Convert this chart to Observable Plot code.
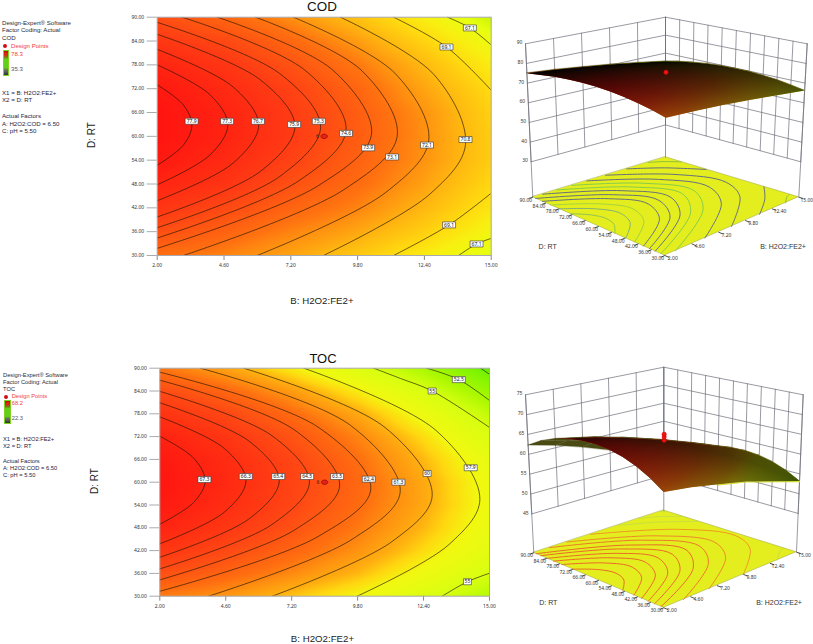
<!DOCTYPE html>
<html>
<head>
<meta charset="utf-8">
<script src="https://cdn.jsdelivr.net/npm/d3@7"></script>
<script src="https://cdn.jsdelivr.net/npm/@observablehq/plot@0.6"></script>
<style>
  html, body { margin: 0; padding: 0; background: #fff; }
  #page { position: relative; width: 813px; height: 644px; overflow: hidden; font-family: "Liberation Sans", Arial, sans-serif; }
  #page svg { position: absolute; background: transparent; overflow: visible; }
  .t { position: absolute; white-space: nowrap; line-height: 1; color: #222; }
  .c { transform: translate(-50%, -50%); }
</style>
</head>
<body>
<div id="page"></div>
<script>
// ---------- axis ticks ----------
const bTicks = [2, 4.6, 7.2, 9.8, 12.4, 15];
const rtTicks = [90, 84, 78, 72, 66, 60, 54, 48, 42, 36, 30];

// ---------- response read at every tick crossing (one list per B tick, D from 90 to 30) ----------
const codZ = [
  [75.0, 76.2, 77.3, 78.0, 78.3, 78.3, 78.0, 77.3, 76.3, 75.0, 73.4],
  [73.8, 75.3, 76.3, 77.0, 77.4, 77.4, 77.0, 76.4, 75.3, 74.0, 72.6],
  [72.2, 73.7, 74.8, 75.6, 75.9, 76.0, 75.6, 74.9, 73.9, 72.6, 71.5],
  [70.3, 71.8, 73.0, 73.8, 74.2, 74.3, 74.0, 73.5, 72.6, 71.4, 70.0],
  [68.0, 69.5, 70.7, 71.5, 72.1, 72.2, 72.1, 71.6, 70.8, 69.7, 68.2],
  [65.4, 67.0, 68.2, 69.1, 69.6, 69.8, 69.8, 69.3, 68.6, 67.5, 66.2]
];
const tocZ = [
  [62.2, 64.5, 66.1, 67.2, 67.9, 68.1, 67.8, 67.1, 65.9, 64.2, 62.0],
  [60.5, 62.9, 64.7, 65.9, 66.6, 66.8, 66.5, 65.8, 64.6, 63.0, 61.0],
  [58.3, 60.8, 62.7, 64.0, 64.8, 65.0, 64.8, 64.1, 63.0, 61.5, 59.5],
  [55.7, 58.3, 60.3, 61.7, 62.5, 62.9, 62.7, 62.1, 61.2, 59.8, 57.9],
  [52.6, 55.3, 57.3, 58.8, 59.8, 60.3, 60.3, 59.8, 58.9, 57.5, 55.6],
  [48.7, 51.5, 53.8, 55.5, 56.7, 57.3, 57.4, 57.1, 56.3, 55.0, 53.2]
];

// ---------- contour lines ----------
const codLineX = [
  [2, 3.02, 3.35, 3.02, 2], [2, 4.06, 4.75, 4.06, 2], [2, 4.96, 5.95, 4.96, 2], [2, 6.02, 7.36, 6.02, 2],
  [2, 6.77, 8.36, 6.77, 2], [2.97, 7.76, 9.35, 7.51, 2], [4.34, 8.84, 10.34, 8.26, 2], [5.83, 9.96, 11.34, 9.26, 3.02],
  [7.3, 11.25, 12.57, 10.9, 5.89], [9.13, 12.78, 14, 12.62, 8.47],
  [11.2, 13.26, 15], [15, 13.36, 11.2], [13.3, 14.17, 15], [15, 14.43, 13.73]
];
const codLineY = [
  [73, 67.9, 62.85, 57.8, 52.7], [78, 70.45, 62.9, 55.35, 47.8], [81.9, 72.4, 62.85, 53.3, 43.8], [85.7, 74.2, 62.5, 51.2, 39.7],
  [88.7, 75.8, 62.3, 49.9, 37], [90, 76.6, 61.5, 48.8, 34.4], [90, 76.65, 60.5, 47.55, 31.8], [90, 76.55, 60, 46.55, 30],
  [90, 75.9, 59, 45.9, 30], [90, 75.5, 58, 45.5, 30],
  [90, 82.5, 71.6], [45.7, 37.7, 30], [90, 87.3, 83], [34.3, 32.9, 30]
];
const tocLineX = [
  [2, 3.34, 3.79, 3.34, 2], [2, 4.55, 5.4, 4.55, 2], [2, 5.53, 6.71, 5.53, 2], [2, 6.43, 7.9, 6.43, 2],
  [2, 7.32, 9.09, 7.32, 2], [2, 8.24, 10.32, 8.24, 2], [3.6, 9.51, 11.48, 9.59, 3.92], [5.31, 10.88, 12.74, 11.16, 6.43],
  [7.68, 12.885, 14.62, 13.41, 9.78], [10.43, 11.49, 12.74, 15], [15, 14.13, 13.13], [12.52, 13.79, 15], [14.65, 15]
];
const tocLineY = [
  [72.1, 66.3, 60.4, 54.7, 48.94], [77.2, 68.85, 60.4, 52.15, 43.8], [80.9, 70.75, 60.4, 50.4, 40.25], [83.9, 72.2, 60, 48.9, 37.2],
  [86.84, 73.7, 59.1, 47.45, 34.3], [88.95, 74.5, 58.2, 45.7, 31.3], [90, 75, 57.5, 45, 30], [90, 74.4, 56.5, 44.4, 30],
  [90, 73.65, 55.5, 43.65, 30], [90, 87.3, 84, 74.4], [36.05, 33.8, 30], [90, 87, 81.5], [90, 88.4]
];
const codFloorStroke = ["#93c455", "#84b07a", "#a6d23e", "#67707e", "#67707e", "#67707e", "#86cc4a", "#86cc4a", "#67707e", "#67707e", "#67707e", "#67707e", "#8ac03e", "#8ac03e"];
const tocFloorStroke = ["#ec6a28", "#ec6a28", "#ec6a28", "#ec6a28", "#ec6a28", "#ec6a28", "#ec7a28", "#ec8a28", "#ee9a20", "#c8e040", "#c8e040", "#c8e040", "#c8e040"];

// ---------- contour labels ----------
const codLabelText = ["77.9", "77.3", "76.7", "75.9", "75.3", "74.6", "73.9", "73.1", "72.1", "70.8", "69.1", "69.1", "67.1", "67.1"];
const codLabelX = [3.34, 4.72, 5.92, 7.33, 8.29, 9.35, 10.21, 11.14, 12.5, 14, 13.26, 13.36, 14.17, 14.43];
const codLabelY = [63.8, 63.8, 63.8, 63, 63.8, 60.75, 57.1, 54.8, 57.8, 59.2, 82.5, 37.7, 87.3, 32.9];
const tocLabelText = ["67.3", "66.3", "65.4", "64.5", "63.5", "62.4", "61.3", "60", "57.9", "55", "55", "52.5"];
const tocLabelX = [3.76, 5.39, 6.67, 7.81, 8.99, 10.24, 11.41, 12.54, 14.26, 12.74, 14.13, 13.79];
const tocLabelY = [60.7, 61.5, 61.5, 61.5, 61.5, 60.8, 60, 62.3, 63.8, 84, 33.8, 87];

// ---------- colour ramps ----------
const codDomain = [65, 66.5, 68, 69.1, 70.8, 72.1, 73.1, 75.9, 78.3];
const codRange = ["#c0f000", "#e8ff10", "#f8f010", "#ffdc10", "#ffb810", "#ff9410", "#ff7410", "#ff3c14", "#ff1410"];
const tocDomain = [48.7, 50, 52.5, 55, 57.9, 59, 60, 61.3, 62.4, 64.5, 68.2];
const tocRange = ["#60f000", "#80f400", "#a8f800", "#d8ff10", "#f2f810", "#ffd810", "#ffb010", "#ff9010", "#ff7010", "#ff4a14", "#ff1410"];

// ---------- design point and z axes ----------
const designB = 8.5, designD = 60;
const codDesignZ = [77];
const tocDesignZ = [64.4, 65.2, 65.9];
const codZTicks = [90, 80, 70, 60, 50, 40, 30];
const tocZTicks = [75, 70, 65, 60, 55, 50, 45];

// ---------- layout helpers ----------
const page = document.getElementById("page");
function put(svg, left, top) { svg.style.left = left + "px"; svg.style.top = top + "px"; page.appendChild(svg); }
function text(str, x, y, size, color, center, rotate) {
  const d = document.createElement("div");
  d.className = "t" + (center ? " c" : "");
  d.textContent = str;
  d.style.left = x + "px"; d.style.top = y + "px"; d.style.fontSize = size + "px";
  if (color) d.style.color = color;
  if (rotate) d.style.transform = "translate(-50%,-50%) rotate(-90deg)";
  page.appendChild(d);
}
const boxSym = (w, h) => ({draw(c) { c.rect(-w / 2, -h / 2, w, h); }});
const ellipseSym = (rx, ry) => ({draw(c) {
  const k = 0.5523;
  c.moveTo(rx, 0);
  c.bezierCurveTo(rx, k * ry, k * rx, ry, 0, ry);
  c.bezierCurveTo(-k * rx, ry, -rx, k * ry, -rx, 0);
  c.bezierCurveTo(-rx, -k * ry, -k * rx, -ry, 0, -ry);
  c.bezierCurveTo(k * rx, -ry, rx, -k * ry, rx, 0);
  c.closePath();
}});

function gridOf(zTable) {
  return bTicks.flatMap((b, i) => rtTicks.map((d, j) => ({b, d, z: zTable[i][j]})));
}
function linesOf(xs, ys) {
  return xs.flatMap((line, i) => line.map((x, k) => ({x, y: ys[i][k], id: i})));
}

// ---------- 2-D contour panel ----------
function contourPanel(o) {
  const labels = o.labelText.map((t, i) => ({t, x: o.labelX[i], y: o.labelY[i]}));
  const svg = Plot.plot({
    width: o.w, height: o.h,
    marginLeft: o.left, marginRight: o.w - o.right, marginTop: o.top, marginBottom: o.h - o.bottom,
    x: {domain: [2, 15]}, y: {domain: [30, 90]},
    color: {type: "linear", domain: o.domain, range: o.range},
    marks: [
      Plot.raster(gridOf(o.z), {x: "b", y: "d", fill: "z", interpolate: "barycentric"}),
      Plot.line(linesOf(o.lineX, o.lineY), {x: "x", y: "y", z: "id", curve: "catmull-rom", stroke: "#1c1400", strokeOpacity: 0.8, strokeWidth: 0.8, clip: true}),
      Plot.dot(labels.filter(d => d.t.length > 2), {x: "x", y: "y", symbol: boxSym(13, 6), fill: "#fff", stroke: "#333", strokeWidth: 0.6}),
      Plot.dot(labels.filter(d => d.t.length <= 2), {x: "x", y: "y", symbol: boxSym(8, 6), fill: "#fff", stroke: "#333", strokeWidth: 0.6}),
      Plot.text(labels, {x: "x", y: "y", text: "t", fontSize: 5, fill: "#111"}),
      Plot.text([o.repeat], {x: 8.24, y: 60, text: d => d, fontSize: 5, fill: "#222"}),
      Plot.dot([0], {x: () => designB, y: () => designD, symbol: ellipseSym(3.2, 2.2), fill: "#e8201a", stroke: "#7a0a0a", strokeWidth: 0.7}),
      Plot.axisX({ticks: bTicks, tickSize: 5, tickPadding: 3, tickFormat: ".2f", fontSize: 5, stroke: "#888", color: "#333", label: null}),
      Plot.axisY({ticks: rtTicks, tickSize: 10, tickPadding: 3, tickFormat: ".2f", fontSize: 5, stroke: "#aaa", color: "#333", label: null}),
      Plot.frame({stroke: "#a8a8b0", strokeWidth: 1})
    ]
  });
  put(svg, 0, o.y0);
}

// ---------- view of the 3-D panel: the ticks run evenly along each edge, so the plane is bilinear ----------
function planeMap(q) { // q: front, right, back, left
  const [p0, p1, p2, p3] = q;
  return (u, v) => [0, 1].map(k =>
    p0[k] * (1 - u) * (1 - v) + p1[k] * u * (1 - v) + p2[k] * u * v + p3[k] * (1 - u) * v);
}

function surfacePanel(o) {
  const F = planeMap(o.floor), T = planeMap(o.ceil);
  const P = (b, d, z) => {
    const u = (b - 2) / 13, v = (d - 30) / 60;
    const f = F(u, v), c = T(u, v), t = (z - o.zFloor) / (o.zTop - o.zFloor);
    return {px: f[0] + (c[0] - f[0]) * t, py: f[1] + (c[1] - f[1]) * t};
  };
  const zMin = o.zTicks[o.zTicks.length - 1], zMax = o.zTicks[0];

  // wall lines
  const wall = [];
  let id = 0;
  for (const z of o.zTicks) {
    wall.push({...P(2, 90, z), id}, {...P(15, 90, z), id}, {...P(15, 30, z), id}); id++;
  }
  for (const b of bTicks) { wall.push({...P(b, 90, zMin), id}, {...P(b, 90, zMax), id}); id++; }
  for (const d of rtTicks) { wall.push({...P(15, d, zMin), id}, {...P(15, d, zMax), id}); id++; }
  for (const [b, d] of [[2, 90], [15, 90], [15, 30]]) {
    wall.push({...P(b, d, o.zFloor), id}, {...P(b, d, zMax), id}); id++;
  }

  // floor + contours on it
  const fq = [{a: P(2, 90, o.zFloor), c: P(15, 90, o.zFloor)}, {a: P(2, 30, o.zFloor), c: P(15, 30, o.zFloor)}];
  const floorLines = linesOf(o.lineX, o.lineY).map(p => ({...P(p.x, p.y, o.zFloor), id: p.id, s: o.floorStroke[p.id]}));

  // surface nodes with a hidden-part test (walking from the front corner towards the back)
  const nodes = bTicks.flatMap((b, i) => rtTicks.map((d, j) => {
    const u = (b - 2) / 13, v = (d - 30) / 60;
    const light = 0.65 * (1 - v) * (1 - 0.45 * u);
    return {b, d, i, j, z: o.z[i][j], dark: 1 - light, ...P(b, d, o.z[i][j])};
  }));
  const at = (i, j) => nodes[i * rtTicks.length + j];
  const visible = nodes.filter(n => {
    for (let j = n.j + 1; j < rtTicks.length; j++) if (at(n.i, j).py < n.py - 0.5) return false;
    for (let i = 0; i < n.i; i++) if (at(i, n.j).py < n.py - 0.5) return false;
    return true;
  });
  // the grid cells, drawn flat as the part of the sheet seen from underneath
  const cells = [];
  for (let i = 0; i < bTicks.length - 1; i++) for (let j = 0; j < rtTicks.length - 1; j++) {
    const cid = i * 100 + j;
    cells.push({a: at(i, j), c: at(i + 1, j), cid}, {a: at(i, j + 1), c: at(i + 1, j + 1), cid});
  }

  // floor ticks
  const tickD = rtTicks.map(d => ({d, t: d.toFixed(2), a: P(2, d, o.zFloor), c: P(1.6, d, o.zFloor)}));
  const tickB = bTicks.map(b => ({b, t: b.toFixed(2), a: P(b, 30, o.zFloor), c: P(b, 28, o.zFloor)}));
  const zT = o.zTicks.map(z => ({z, a: P(2, 90, z), t: String(z)}));
  const design = o.designZ.map(z => P(designB, designD, z));
  const rim = bTicks.map((b, i) => at(i, rtTicks.length - 1)).slice(2);

  const svg = Plot.plot({
    width: 313, height: 294, margin: 0,
    x: {domain: [0, 313], axis: null}, y: {domain: [294, 0], axis: null},
    color: {type: "linear", domain: o.domain, range: o.range},
    opacity: {domain: [0, 1], range: [0, 1]},
    marks: [
      Plot.area(fq, {x1: d => d.a.px, y1: d => d.a.py, x2: d => d.c.px, y2: d => d.c.py, fill: o.floorFill, stroke: "#99a030", strokeWidth: 0.5}),
      Plot.line(floorLines, {x: "px", y: "py", z: "id", stroke: "s", curve: "catmull-rom", strokeWidth: 1}),
      Plot.line(wall, {x: "px", y: "py", z: "id", stroke: "#6d6f78", strokeWidth: 0.7}),
      Plot.line(rim, {x: "px", y: "py", stroke: o.rim, strokeWidth: 1.2, dy: 0.6}),
      Plot.area(cells, {x1: d => d.a.px, y1: d => d.a.py, x2: d => d.c.px, y2: d => d.c.py, z: "cid", fill: "#4a4a14", stroke: "#4a4a14", strokeWidth: 0.3}),
      Plot.raster(visible, {x: "px", y: "py", fill: "z", interpolate: "barycentric"}),
      Plot.raster(visible, {x: "px", y: "py", fill: "black", fillOpacity: "dark", interpolate: "barycentric"}),
      Plot.dot(design, {x: "px", y: "py", r: 2.2, fill: "#f01414", stroke: "#c00", strokeWidth: 0.4}),
      Plot.link(tickD, {x1: d => d.a.px, y1: d => d.a.py, x2: d => d.c.px, y2: d => d.c.py, stroke: "#222", strokeWidth: 0.8}),
      Plot.link(tickB, {x1: d => d.a.px, y1: d => d.a.py, x2: d => d.c.px, y2: d => d.c.py, stroke: "#222", strokeWidth: 0.8}),
      Plot.text(tickD, {x: d => d.a.px, y: d => d.a.py, text: "t", dx: -7, dy: 3, fontSize: 5, fill: "#333"}),
      Plot.text(tickB, {x: d => d.a.px, y: d => d.a.py, text: "t", dx: 8, dy: 3, fontSize: 5, fill: "#333"}),
      Plot.text(zT, {x: d => d.a.px, y: d => d.a.py, text: "t", dx: -6, dy: -1, fontSize: 5, fill: "#333"})
    ]
  });
  // Plot's barycentric raster fills the whole frame, so cut it to the surface outline
  const left = at(0, 0), right = at(5, rtTicks.length - 1);
  const edge = [
    ...rtTicks.map((d, j) => at(0, j)),
    ...bTicks.map((b, i) => at(i, rtTicks.length - 1))
  ];
  const hull = d3.polygonHull(nodes.map(n => [n.px, n.py]));
  const chord = x => left.py + (right.py - left.py) * (x - left.px) / (right.px - left.px);
  const upper = hull.filter(p => p[1] < chord(p[0]) - 0.01).sort((p, q) => q[0] - p[0]);
  const pts = [...edge.map(n => [n.px, n.py]), ...upper];
  const ns = "http://www.w3.org/2000/svg";
  const defs = document.createElementNS(ns, "defs");
  const clip = document.createElementNS(ns, "clipPath");
  clip.setAttribute("id", o.clipId);
  const poly = document.createElementNS(ns, "polygon");
  poly.setAttribute("points", pts.map(p => p.join(",")).join(" "));
  clip.appendChild(poly);
  // fine dark mesh over the surface, like the wire grid of the original
  const pat = document.createElementNS(ns, "pattern");
  pat.setAttribute("id", o.clipId + "M");
  pat.setAttribute("width", 2); pat.setAttribute("height", 2);
  pat.setAttribute("patternUnits", "userSpaceOnUse");
  const cell = document.createElementNS(ns, "rect");
  cell.setAttribute("width", 1); cell.setAttribute("height", 1); cell.setAttribute("fill", "#000"); cell.setAttribute("fill-opacity", 0.28);
  pat.appendChild(cell);
  defs.appendChild(clip); defs.appendChild(pat);
  svg.appendChild(defs);
  const images = svg.querySelectorAll("image");
  images.forEach(im => im.setAttribute("clip-path", `url(#${o.clipId})`));
  const mesh = document.createElementNS(ns, "rect");
  mesh.setAttribute("width", 313); mesh.setAttribute("height", 294);
  mesh.setAttribute("fill", `url(#${o.clipId}M)`);
  mesh.setAttribute("clip-path", `url(#${o.clipId})`);
  const lastImage = images[images.length - 1];
  lastImage.parentNode.insertBefore(mesh, lastImage.nextSibling);
  put(svg, 500, o.y0);
}

// ---------- left notes ----------
function notes(o) {
  const s = o.size, x = o.x;
  o.head.forEach((t, i) => text(t, x, o.headY[i] - s / 2, s, "#2a2a33"));
  const dot = document.createElement("div");
  dot.style.cssText = `position:absolute;left:${o.dotX - 2}px;top:${o.dpY - 2}px;width:4px;height:4px;border-radius:50%;background:#d01010;`;
  page.appendChild(dot);
  text("Design Points", o.x2, o.dpY - s / 2, s, "#f03c3c");
  text(o.max, o.x2, o.maxY - s / 2, s, "#f03c3c");
  text(o.min, o.x2, o.minY - s / 2, s, "#556");
  const bar = document.createElement("div");
  bar.style.cssText = `position:absolute;left:${o.barX}px;top:${o.barY}px;width:${o.barW}px;height:${o.barH}px;outline:1px solid #7ed321;outline-offset:-1px;background:linear-gradient(#8a0c0c 0%,#e02010 12%,#d03014 20%,#7a7a20 28%,#62d018 36%,#62d018 68%,#6a7a60 76%,#555 86%,#222 100%);`;
  page.appendChild(bar);
  o.foot.forEach((t, i) => text(t, x, o.footY[i] - s / 2, s, "#1e2240"));
}

notes({
  x: 2, x2: 11, size: 6.1, dotX: 5, dpY: 46.3, maxY: 53.7, minY: 69.3, max: "78.3", min: "35.3",
  barX: 3, barY: 50, barW: 6, barH: 26,
  head: ["Design-Expert® Software", "Factor Coding: Actual", "COD"], headY: [22.7, 30.3, 38.3],
  foot: ["X1 = B: H2O2:FE2+", "X2 = D: RT", "Actual Factors", "A: H2O2:COD = 6.50", "C: pH = 5.50"],
  footY: [93, 100.3, 116, 123.7, 131.3]
});
notes({
  x: 3, x2: 11.7, size: 5.75, dotX: 6, dpY: 397.3, maxY: 404.3, minY: 418.7, max: "68.2", min: "22.3",
  barX: 4, barY: 400, barW: 7, barH: 24,
  head: ["Design-Expert® Software", "Factor Coding: Actual", "TOC"], headY: [375.7, 382.7, 389.7],
  foot: ["X1 = B: H2O2:FE2+", "X2 = D: RT", "Actual Factors", "A: H2O2:COD = 6.50", "C: pH = 5.50"],
  footY: [440.3, 447.3, 461.7, 469, 476.3]
});

// ---------- the four panels ----------
contourPanel({
  y0: 0, w: 500, h: 275, left: 156.7, right: 490.7, top: 16.7, bottom: 255,
  z: codZ, lineX: codLineX, lineY: codLineY, domain: codDomain, range: codRange,
  labelText: codLabelText, labelX: codLabelX, labelY: codLabelY, repeat: "6"
});
contourPanel({
  y0: 350, w: 500, h: 270, left: 159.3, right: 489, top: 17.7, bottom: 245.7,
  z: tocZ, lineX: tocLineX, lineY: tocLineY, domain: tocDomain, range: tocRange,
  labelText: tocLabelText, labelX: tocLabelX, labelY: tocLabelY, repeat: "6"
});
surfacePanel({
  y0: 0, clipId: "clipCod", z: codZ, lineX: codLineX, lineY: codLineY, floorStroke: codFloorStroke, rim: "none",
  domain: codDomain, range: codRange, zTicks: codZTicks, designZ: codDesignZ, zFloor: 12, zTop: 90, floorFill: "#e4ee1e",
  floor: [[164.3, 255], [298.3, 196.7], [165, 156.7], [32.3, 196.7]],
  ceil: [[165.7, 80], [306.7, 43.3], [165, 16.7], [25, 43.3]]
});
surfacePanel({
  y0: 350, clipId: "clipToc", z: tocZ, lineX: tocLineX, lineY: tocLineY, floorStroke: tocFloorStroke, rim: "#d8e030",
  domain: tocDomain, range: tocRange, zTicks: tocZTicks, designZ: tocDesignZ, zFloor: 35.2, zTop: 75, floorFill: "#e4ee1e",
  floor: [[163.3, 257.3], [296, 201.7], [163.3, 160], [33.3, 202.3]],
  ceil: [[163.3, 85.5], [302.7, 44.3], [163.3, 16.7], [25, 44.3]]
});

// ---------- titles ----------
text("COD", 322, 7, 13.4, "#111", true);
text("TOC", 323, 357.7, 13, "#111", true);
text("B: H2O2:FE2+", 322, 300.7, 9.7, "#222", true);
text("B: H2O2:FE2+", 322.5, 639, 9.7, "#222", true);
text("D: RT", 91.7, 135, 10, "#222", true, true);
text("D: RT", 95, 481, 10, "#222", true, true);
text("D: RT", 547.7, 246, 7, "#333", true);
text("B: H2O2:FE2+", 783, 246, 7, "#333", true);
text("D: RT", 548.3, 601.7, 7, "#333", true);
text("B: H2O2:FE2+", 779, 601.7, 7, "#333", true);
</script>
</body>
</html>
